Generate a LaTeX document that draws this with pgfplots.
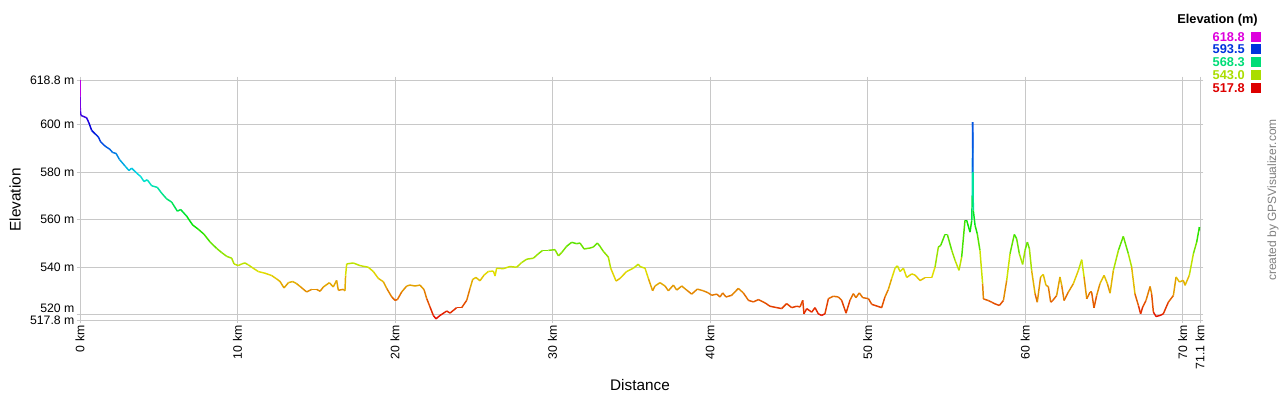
\documentclass[border=0pt]{standalone}
\usepackage{fontspec}
\setmainfont{Liberation Sans}
\usepackage{pgfplots}
\pgfplotsset{compat=1.18}
\definecolor{gridgray}{HTML}{C8C8C8}
\definecolor{cA}{HTML}{DD00DD}
\definecolor{cB}{HTML}{0033DD}
\definecolor{cC}{HTML}{00DD77}
\definecolor{cD}{HTML}{AADD00}
\definecolor{cE}{HTML}{DD0000}
\definecolor{credit}{HTML}{808080}
\begin{document}
\begin{tikzpicture}
\useasboundingbox (0,0) rectangle (960pt,300pt);
\begin{axis}[
  at={(60pt,60pt)}, anchor=south west,
  width=840pt, height=180pt, scale only axis,
  xmin=0, xmax=71.1, ymin=517.8, ymax=618.8,
  xtick={0,10,20,30,40,50,60,70,71.1},
  xticklabels={0 km,10 km,20 km,30 km,40 km,50 km,60 km,70 km,71.1 km},
  ytick={517.8,540,560,580,600,618.8},
  yticklabels={517.8 m,540 m,560 m,580 m,600 m,618.8 m},
  extra y ticks={520},
  extra y tick labels={520 m},
  extra y tick style={grid=major, yticklabel style={yshift=4.5pt}},
  xticklabel style={rotate=90, anchor=east, font=\fontsize{9.2}{10}\selectfont, inner sep=1.5pt},
  yticklabel style={font=\fontsize{9.2}{10}\selectfont, inner sep=1.5pt},
  grid=major, grid style={gridgray, line width=0.75pt},
  axis line style={gridgray, line width=0.75pt},
  tick style={gridgray, line width=0.75pt},
  tick align=outside, major tick length=2.5pt,
  xlabel={Distance}, ylabel={Elevation},
  xlabel style={at={(axis description cs:0.5,-0.2708)}, anchor=center, font=\fontsize{11.5}{13}\selectfont},
  ylabel style={at={(axis description cs:-0.058,0.5)}, anchor=center, font=\fontsize{11.5}{13}\selectfont},
  colormap={gpsv}{rgb255=(228,0,0) rgb255=(228,114,0) rgb255=(225,225,0) rgb255=(114,228,0) rgb255=(0,228,0) rgb255=(0,228,114) rgb255=(0,225,225) rgb255=(0,114,228) rgb255=(0,0,220) rgb255=(114,0,228) rgb255=(228,0,228)},
  point meta min=517.8, point meta max=618.8,
]
\addplot[mesh, point meta=y, line width=1.1pt] coordinates {
(0,618.8)(0,612)(0.02,606)(0.06,603.9)(0.42,602.9)(0.57,600.7)(0.74,597.6)(0.95,596.2)(1.16,594.9)(1.31,592.8)(1.59,591)(1.90,589.6)(2.07,588.3)(2.29,587.9)(2.50,585.4)(2.86,582.6)(3.11,580.7)(3.28,581.7)(3.60,579.6)(3.85,578.2)(4.06,576.1)(4.27,576.8)(4.55,574.3)(4.91,573.6)(5.18,571.2)(5.50,568.8)(5.82,567.4)(6.18,563.6)(6.39,564.3)(6.77,561.5)(7.15,557.8)(7.51,556)(7.87,553.9)(8.25,550.7)(8.68,547.9)(8.99,546.2)(9.31,544.6)(9.63,543.8)(9.78,541.4)(10.05,540.7)(10.26,541.4)(10.47,541.8)(10.69,541)(10.90,540)(11.32,538.2)(11.74,537.5)(12.17,536.5)(12.48,535.1)(12.70,534)(12.95,531.3)(13.23,533.5)(13.50,534)(13.75,533.1)(14.01,531.7)(14.39,529.6)(14.71,530.7)(15.02,530.7)(15.24,529.9)(15.45,531.7)(15.83,533.5)(16.08,531.7)(16.29,534.5)(16.40,530.3)(16.72,530.7)(16.82,530.1)(16.86,536.5)(16.93,541.4)(17.35,541.8)(17.77,540.7)
(18.30,540)(18.62,538.2)(18.94,535.3)(19.26,533.9)(19.47,531.1)(19.79,527.5)(20.0,526.1)(20.15,526.4)(20.42,529.6)(20.74,532.1)(20.95,532.5)(21.27,532.1)(21.58,532.5)(21.84,530.6)(22.01,526.8)(22.22,523.3)(22.43,519.7)(22.6,518.3)(22.85,519.7)(23.17,521.1)(23.28,521.6)(23.49,520.7)(23.91,523)(24.23,523)(24.55,526.1)(24.76,531.1)(24.93,534.9)(25.14,535.7)(25.39,534.3)(25.65,536.7)(25.92,538.2)(26.24,538.4)(26.35,536.3)(26.45,539.6)(26.87,539.4)(27.29,540.3)(27.72,540)(28.04,542)(28.36,543.4)(28.78,543.8)(29.1,545.7)(29.37,547.1)(29.73,547.1)(30.15,547.4)(30.37,544.8)(30.58,546.2)(30.89,548.8)(31.21,550.5)(31.53,549.9)(31.74,550.2)(32.0,547.7)(32.38,548.1)(32.59,548.5)(32.84,550.2)(33.01,548.8)(33.22,546.7)(33.54,544.3)(33.69,539.6)(34.03,534.2)(34.28,535.3)(34.70,538.2)(35.13,539.6)(35.44,541.3)
(35.55,540.3)(35.87,539.6)(36.08,535.3)(36.35,530.1)(36.50,532.1)(36.82,533.5)(37.14,532.1)(37.35,530.1)(37.67,532.5)(37.88,530.4)(38.2,532.1)(38.51,530.4)(38.83,528.7)(39.19,530.8)(39.57,530.1)(39.89,529.2)(40.1,528.2)(40.42,528.7)(40.63,527.5)(40.8,529.2)(41.01,527.5)(41.37,528.2)(41.79,531.1)(42.11,529.2)(42.43,526.1)(42.75,525.4)(43.06,526.4)(43.49,525)(43.8,523.6)(44.23,523)(44.54,522.6)(44.86,524.7)(45.18,523)(45.5,523.6)(45.71,523.3)(45.88,526.1)(45.96,520.4)(46.13,522.6)(46.45,521.1)(46.66,523)(46.87,520.4)(47.08,519.7)(47.29,520.4)(47.51,526.8)(47.82,527.8)(48.14,527.5)(48.35,526.1)(48.63,520.7)(48.88,526.1)(49.09,528.9)(49.26,527.2)(49.47,529.2)(49.69,527.2)(50.05,526.8)(50.26,524.4)(50.89,523)(51.1,527.5)(51.31,530.6)(51.53,535.3)(51.74,539.6)(51.89,540.6)(52.06,538.2)(52.27,539.6)(52.48,535.7)(52.8,537.2)(53.01,536.7)
(53.33,534.4)(53.64,535.6)(54.07,535.6)(54.28,540.1)(54.49,548.5)(54.64,549.2)(54.91,553.8)(55.06,553.8)(55.34,547.1)(55.55,542.9)(55.80,538.7)(55.97,544.3)(56.18,559.7)(56.29,559.7)(56.5,554.8)(56.61,559.7)(56.64,570)(56.65,579.4)(56.66,590)(56.67,601.1)(56.69,580)(56.71,563.9)(56.82,557.6)(56.96,554.1)(57.13,547.1)(57.3,533.1)(57.35,526.7)(57.66,526)(57.87,525.3)(58.09,524.6)(58.36,523.9)(58.62,526)(58.83,534.5)(59.04,545.7)(59.31,553.8)(59.46,552)(59.63,545.7)(59.84,541.2)(59.99,547.1)(60.14,550.6)(60.27,547.8)(60.41,538.7)(60.63,528.8)(60.77,525.3)(60.98,535.9)(61.15,537)(61.32,532.4)(61.47,531.9)(61.62,525.3)(61.75,526)(62.0,528.1)(62.21,535.9)(62.32,532.4)(62.47,526)(62.74,529.5)(63.06,533.1)(63.38,538.7)(63.59,543.2)(63.74,535.9)(63.91,526.7)(64.12,529.5)(64.22,529.5)(64.37,522.9)(64.54,528.1)(64.75,533.1)(65.01,536.6)(65.22,533.1)(65.39,529.1)(65.6,538.7)(65.92,547.1)(66.23,553)(66.55,545.7)(66.76,540.1)(66.97,528.8)(67.19,523.9)(67.33,520.4)(67.46,523.2)(67.67,526)(67.93,531.9)(68.03,528.8)(68.14,521.1)(68.31,519.3)(68.56,519.7)(68.77,520.4)(69.09,525.3)(69.41,528.1)(69.58,535.9)(69.79,533.8)(70.04,534.5)(70.15,532.4)(70.42,536.6)(70.68,545.7)(70.89,550.6)(71.06,556.9)(71.1,555.5)
};
\end{axis}
% legend
\node[anchor=east, font=\bfseries\fontsize{9.6}{11}\selectfont, inner sep=0pt] at (943.5pt,285pt) {Elevation (m)};
\node[anchor=east, font=\bfseries\fontsize{9.6}{11}\selectfont, text=cA, inner sep=0pt] at (933.75pt,272.25pt) {618.8};
\node[anchor=east, font=\bfseries\fontsize{9.6}{11}\selectfont, text=cB, inner sep=0pt] at (933.75pt,262.9pt) {593.5};
\node[anchor=east, font=\bfseries\fontsize{9.6}{11}\selectfont, text=cC, inner sep=0pt] at (933.75pt,253.5pt) {568.3};
\node[anchor=east, font=\bfseries\fontsize{9.6}{11}\selectfont, text=cD, inner sep=0pt] at (933.75pt,243.75pt) {543.0};
\node[anchor=east, font=\bfseries\fontsize{9.6}{11}\selectfont, text=cE, inner sep=0pt] at (933.75pt,234pt) {517.8};
\fill[cA] (938.25pt,268.5pt) rectangle ++(7.5pt,7.5pt);
\fill[cB] (938.25pt,259.15pt) rectangle ++(7.5pt,7.5pt);
\fill[cC] (938.25pt,249.75pt) rectangle ++(7.5pt,7.5pt);
\fill[cD] (938.25pt,240pt) rectangle ++(7.5pt,7.5pt);
\fill[cE] (938.25pt,230.25pt) rectangle ++(7.5pt,7.5pt);
\node[rotate=90, font=\fontsize{9}{10}\selectfont, text=credit, inner sep=0pt] at (954.75pt,150pt) {created by GPSVisualizer.com};
\end{tikzpicture}
\end{document}
